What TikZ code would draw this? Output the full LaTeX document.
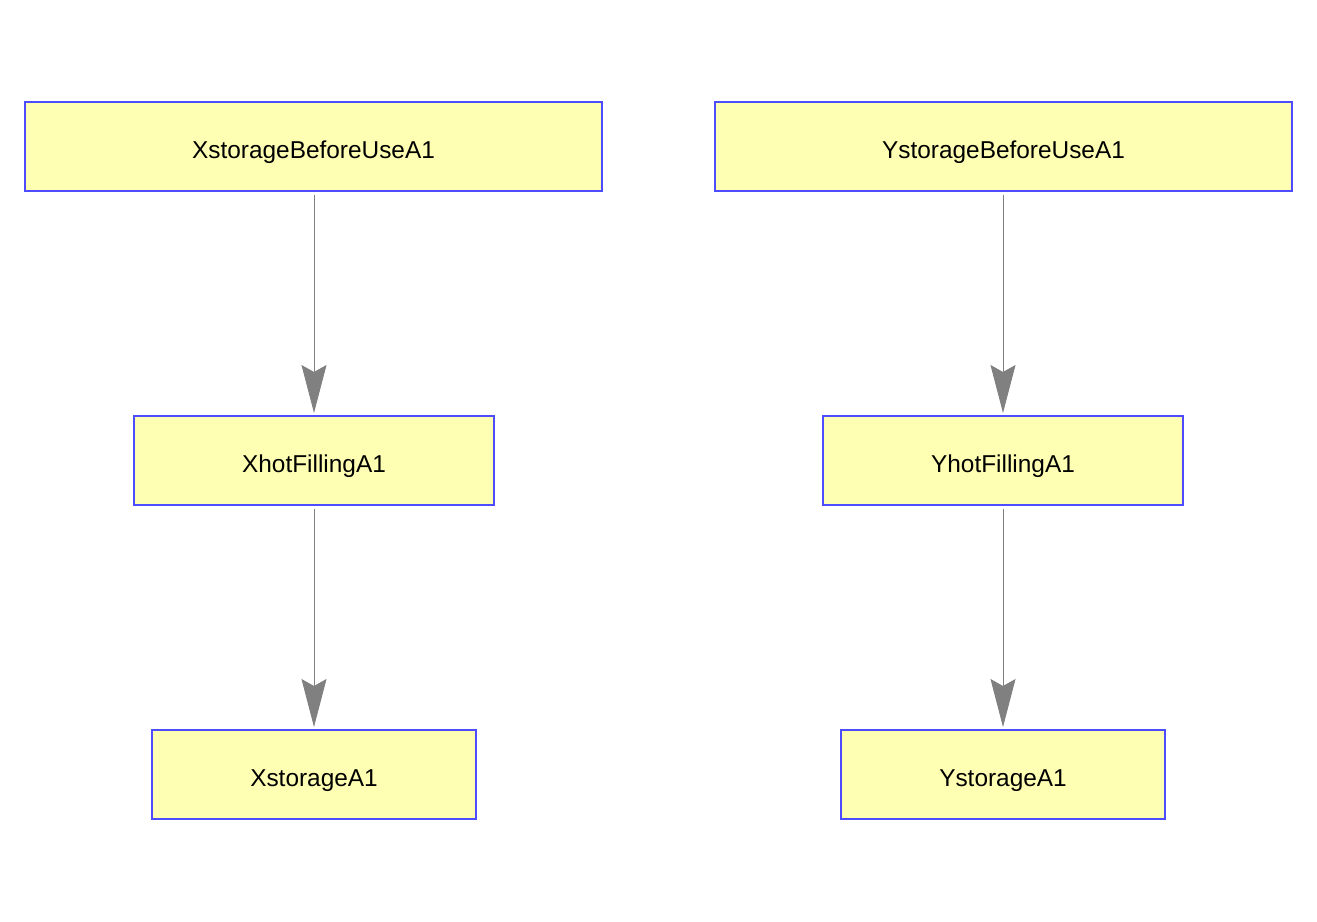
\documentclass[tikz,border=0pt]{standalone}
\usepackage{fontspec}
\setmainfont{Liberation Sans}
\usetikzlibrary{arrows.meta}
\definecolor{boxfill}{HTML}{FFFFB3}
\definecolor{boxline}{HTML}{4D4DFF}
\definecolor{flow}{HTML}{808080}
\begin{document}
\begin{tikzpicture}[x=1pt,y=-1pt,
  statebox/.style={draw=boxline, fill=boxfill, line width=2pt, rectangle,
    minimum height=89pt, inner sep=0pt, text height=24pt, text depth=0pt,
    font=\fontsize{24.4}{28}\selectfont},
  flowarrow/.style={draw=flow, line width=1pt,
    -{Stealth[length=48pt,width=25pt,inset=7pt,fill=flow]},
    shorten <=3pt, shorten >=2pt}]
  \useasboundingbox (0,0) rectangle (1317,921);
  % left chain
  \node[statebox, minimum width=577pt] (xbefore) at (313.5,146) {XstorageBeforeUseA1};
  \node[statebox, minimum width=360pt] (xhot) at (314,460.5) {XhotFillingA1};
  \node[statebox, minimum width=324pt] (xstore) at (314,774.5) {XstorageA1};
  % right chain
  \node[statebox, minimum width=577pt] (ybefore) at (1003.5,146) {YstorageBeforeUseA1};
  \node[statebox, minimum width=360pt] (yhot) at (1003,460.5) {YhotFillingA1};
  \node[statebox, minimum width=324pt] (ystore) at (1003,774.5) {YstorageA1};
  % transitions
  \draw[flowarrow] (xbefore.south -| xhot.north) -- (xhot.north);
  \draw[flowarrow] (xhot.south) -- (xstore.north);
  \draw[flowarrow] (ybefore.south -| yhot.north) -- (yhot.north);
  \draw[flowarrow] (yhot.south) -- (ystore.north);
\end{tikzpicture}
\end{document}
